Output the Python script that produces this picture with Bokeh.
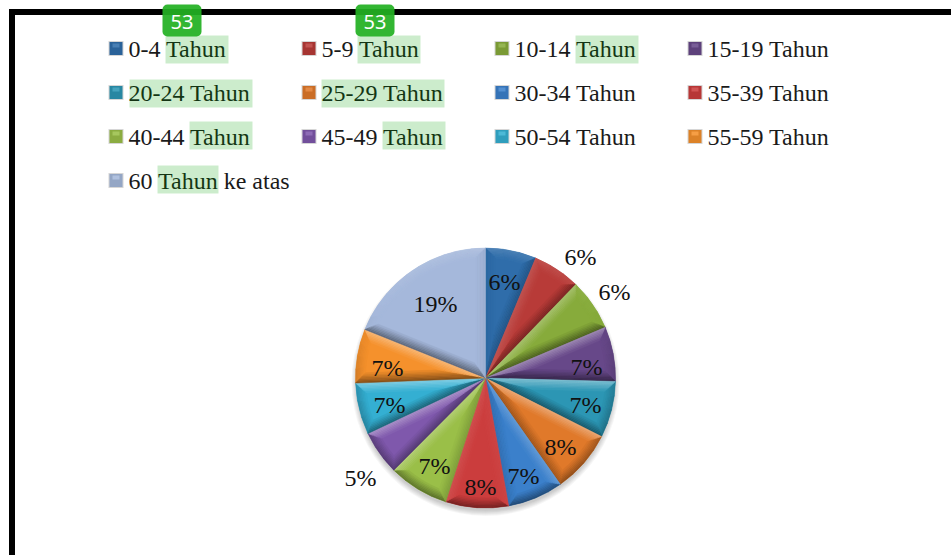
import math
from bokeh.plotting import figure
from bokeh.embed import file_html
from bokeh.resources import INLINE
from bokeh.core.properties import value

age_groups = ["0-4 Tahun", "5-9 Tahun", "10-14 Tahun", "15-19 Tahun",
              "20-24 Tahun", "25-29 Tahun", "30-34 Tahun", "35-39 Tahun",
              "40-44 Tahun", "45-49 Tahun", "50-54 Tahun", "55-59 Tahun",
              "60 Tahun  ke atas"]
shares = [6.3, 5.9, 6.4, 6.8, 7.0, 7.8, 6.9, 7.8, 7.5, 5.5, 6.4, 6.7, 18.9]
pct_labels = ["6%", "6%", "6%", "7%", "7%", "8%", "7%", "8%", "7%", "5%", "7%", "7%", "19%"]
colors = ["#2F6DAA", "#B83B38", "#87AB3B", "#674889", "#2C96B4", "#E0792A",
          "#3B80CB", "#CB3D3D", "#9ABF48", "#7F58AC", "#34AFD2", "#F5912C", "#A5B8DB"]
badge_labels = ["53", "53"]

FW, FH = 951, 555
CX, CY, R = 485, 377.5, 130

def Y(py):
    return 555 - py

p = figure(width=FW, height=FH, x_range=(0, FW), y_range=(0, FH),
           output_backend="svg", toolbar_location=None,
           x_axis_location=None, y_axis_location=None, min_border=0,
           background_fill_color="white", border_fill_color="white")
p.grid.visible = False
p.outline_line_color = None

# frame
p.line([11.5, 11.5], [Y(8.5), Y(555)], line_color="black", line_width=6)
p.line([8.5, 951], [Y(11.5), Y(11.5)], line_color="black", line_width=6)

# soft drop shadow
for i in range(6):
    p.circle(x=[CX], y=[Y(CY + 4)], radius=R + 4 - i, fill_color="black",
             fill_alpha=0.035, line_color=None)

def mix(c, s):
    r, g, b = int(c[1:3], 16), int(c[3:5], 16), int(c[5:7], 16)
    t = 255 if s > 0 else 0
    a = abs(s)
    return "#%02x%02x%02x" % tuple(int(round(v + (t - v) * a)) for v in (r, g, b))

total = sum(shares)
cum = [0.0]
for v in shares:
    cum.append(cum[-1] + v / total * 2 * math.pi)

# base slices
p.wedge(x=[CX] * 13, y=[Y(CY)] * 13, radius=R,
        start_angle=[math.pi / 2 - a for a in cum[:-1]],
        end_angle=[math.pi / 2 - a for a in cum[1:]],
        direction="clock", fill_color=colors, line_color=None)

# bevel strips
N, W = 7, 10.0
xs, ys, cs = [], [], []

def pt(rho, a):
    return (CX + rho * math.sin(a), Y(CY) + rho * math.cos(a))

def inset(a0, a1, d):
    rho = R - d
    da = math.asin(min(0.99, d / rho))
    half = (a1 - a0) / 2
    mid = (a0 + a1) / 2
    shift = d / math.sin(min(half, math.pi / 2))
    apex = (CX + shift * math.sin(mid), Y(CY) + shift * math.cos(mid))
    return apex, rho, a0 + da, a1 - da

def add(q, col):
    xs.append([u[0] for u in q])
    ys.append([u[1] for u in q])
    cs.append(col)

for i, c in enumerate(colors):
    a0, a1 = cum[i], cum[i + 1]
    for k in range(N):
        fade = (1 - k / N)
        A, ra, s0, e0 = inset(a0, a1, W * k / N)
        B, rb, s1, e1 = inset(a0, a1, W * (k + 1) / N)
        m = max(2, int((a1 - a0) / math.radians(6)))
        for j in range(m):
            t0, t1 = j / m, (j + 1) / m
            q = [pt(ra, s0 + (e0 - s0) * t0), pt(ra, s0 + (e0 - s0) * t1),
                 pt(rb, s1 + (e1 - s1) * t1), pt(rb, s1 + (e1 - s1) * t0)]
            am = s0 + (e0 - s0) * (t0 + t1) / 2
            ny = math.cos(am)
            sh = (0.28 * ny - 0.14) * fade
            add(q, mix(c, sh))
        n0 = (-math.cos(a0), math.sin(a0))
        n1 = (math.cos(a1), -math.sin(a1))
        add([A, pt(ra, s0), pt(rb, s1), B], mix(c, (0.42 * n0[1] - 0.04) * fade))
        add([A, pt(ra, e0), pt(rb, e1), B], mix(c, (0.42 * n1[1] - 0.04) * fade))

p.patches(xs, ys, fill_color=cs, line_color=cs, line_width=0.5)

# pie labels
label_x = [504, 580, 614, 586, 585, 560, 523, 480, 434, 360, 389, 387, 435]
label_y = [281, 256, 291, 366, 404, 446, 475, 486, 465, 477, 404, 367, 303]
p.text(x=label_x, y=[Y(v) for v in label_y], text=pct_labels,
       text_font=value("Liberation Serif"), text_font_size="24px",
       text_color="#111111", text_align="center", text_baseline="middle")

# legend
col_x = [108, 301, 494, 687]
row_y = [49, 93, 137, 181]
lx, ly = [], []
for i in range(13):
    lx.append(col_x[i % 4])
    ly.append(row_y[i // 4])
p.rect(x=[v + 7.5 for v in lx], y=[Y(v - 1) for v in ly], width=15, height=15,
       fill_color="#999999", fill_alpha=0.4, line_color=None)
p.rect(x=[v + 7.5 for v in lx], y=[Y(v - 1) for v in ly], width=13, height=13,
       fill_color=[mix(c, -0.1) for c in colors], line_color=None)
p.rect(x=[v + 7.5 for v in lx], y=[Y(v - 4) for v in ly], width=7, height=4,
       fill_color=[mix(c, 0.12) for c in colors], line_color=None)
p.text(x=[v + 20 for v in lx], y=[Y(v - 1) for v in ly], text=age_groups,
       text_font=value("Liberation Serif"), text_font_size="24px",
       text_color="#1a1a1a", text_align="left", text_baseline="middle")

# translation highlights
hl_left = [165, 357, 575, 129, 321, 189, 382, 157]
hl_right = [228, 420, 638, 252, 444, 252, 445, 218]
hl_top = [35, 35, 35, 79, 79, 121, 121, 165]
p.quad(left=hl_left, right=hl_right, top=[Y(v) for v in hl_top],
       bottom=[Y(v + 28) for v in hl_top], fill_color="#00A000", fill_alpha=0.2,
       line_color=None)

# badges
badge_x = [181.5, 374.5]
p.rect(x=badge_x, y=[Y(20)] * 2, width=39, height=32, border_radius=5,
       fill_color="#22B022", fill_alpha=0.93, line_color=None)
p.text(x=badge_x, y=[Y(21)] * 2, text=badge_labels, text_font=value("Noto Sans"),
       text_font_size="20px", text_color="white", text_align="center",
       text_baseline="middle")

open("out.html", "w").write(file_html(p, INLINE))
